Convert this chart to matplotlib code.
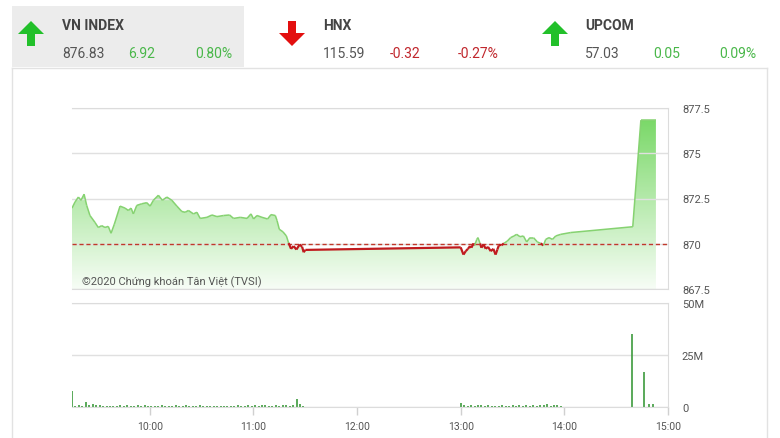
import numpy as np
import matplotlib
matplotlib.use('Agg')
import matplotlib.pyplot as plt
from matplotlib.collections import LineCollection
from matplotlib.patches import PathPatch, Rectangle, FancyArrow
from matplotlib.colors import LinearSegmentedColormap

plt.rcParams['font.family'] = ['Roboto', 'DejaVu Sans']

# header indices
idx_names = ['VN INDEX', 'HNX', 'UPCOM']
idx_close = ['876.83', '115.59', '57.03']
idx_change = ['6.92', '-0.32', '0.05']
idx_pct = ['0.80%', '-0.27%', '0.09%']
idx_up = [True, False, True]

# VN-Index intraday (minutes after 9:00, points)
price_min = [15.0, 16.7, 18.7, 20.2, 22.0, 23.5, 25.4, 28.3, 30.2, 32.2, 34.1, 36.0, 37.6, 39.5,
             42.8, 45.7, 47.6, 49.2, 50.5, 52.5, 55.4, 58.3, 60.2, 62.1, 65.0, 67.3, 69.9, 72.8,
             75.7, 78.6, 80.5, 82.4, 85.3, 87.3, 89.2, 93.1, 96.0, 98.9, 102.7, 106.2, 108.5,
             112.4, 116.3, 118.6, 120.1, 122.1, 125.0, 128.2, 130.2, 132.7, 133.7, 135.0, 137.1,
             139.1, 140.4, 141.8, 143.3, 144.9, 146.8, 148.2, 149.1, 150.1,
             240.0, 241.6, 242.9, 244.2, 245.4, 246.2, 247.4, 248.1, 249.3, 250.0, 251.2, 252.0,
             253.2, 254.5, 255.8, 257.4, 258.9, 260.2, 261.2, 262.1, 263.5, 265.0, 267.0, 268.9,
             270.8, 272.4, 274.3, 276.3, 278.2, 280.1, 282.1, 284.4, 286.3, 287.9, 289.2, 291.1,
             293.1, 295.0, 297.9, 303.7, 339.6, 344.3, 353.0]
price_val = [871.97, 872.30, 872.58, 872.40, 872.74, 872.12, 871.56, 871.18, 870.90, 871.00,
             870.90, 870.96, 870.58, 871.08, 872.08, 871.97, 871.84, 871.97, 871.65, 872.12,
             872.21, 872.27, 872.08, 872.40, 872.68, 872.40, 872.58, 872.40, 872.08, 871.78,
             871.74, 871.84, 871.65, 871.74, 871.40, 871.46, 871.59, 871.50, 871.56, 871.59,
             871.40, 871.46, 871.40, 871.65, 871.37, 871.56, 871.46, 871.37, 871.61, 871.56,
             871.28, 870.80, 870.66, 870.43, 870.04, 869.72, 869.87, 869.68, 869.96, 869.83,
             869.53, 869.66,
             869.80, 869.40, 869.59, 869.72, 869.87, 869.78, 870.02, 869.91, 870.24, 870.34,
             870.02, 869.78, 869.96, 869.72, 869.83, 869.59, 869.72, 869.40, 869.68, 869.91,
             869.91, 870.02, 870.15, 870.34, 870.43, 870.52, 870.39, 870.43, 870.10, 870.34,
             870.34, 870.10, 870.02, 869.91, 870.24, 870.34, 870.24, 870.43, 870.52, 870.62,
             870.94, 876.83, 876.83]
ref_price = 870.0

# volume (million shares), one bar per 2 minutes
vol_am = [7.5, 0.6, 0.9, 0.7, 2.2, 1.0, 1.4, 1.2, 0.8, 0.6,
          0.5, 0.7, 0.6, 0.5, 0.8, 0.6, 0.9, 0.5, 0.7, 1.1,
          0.6, 0.8, 0.5, 0.6, 0.4, 0.7, 0.9, 0.5, 0.6, 0.5,
          0.8, 0.4, 0.6, 0.9, 0.7, 0.5, 0.6, 0.8, 0.5, 0.4,
          0.7, 0.6, 0.5, 0.3, 0.6, 0.5, 0.7, 0.4, 0.8, 0.5,
          0.6, 0.9, 0.7, 1.0, 0.6, 0.8, 0.9, 0.7, 0.6, 1.1,
          0.5, 0.8, 1.2, 0.7, 1.0, 4.0, 1.3, 0.5]
vol_pm = [2.0, 0.9, 0.6, 0.8, 0.7, 1.0, 1.1, 0.6, 0.9, 0.5,
          0.7, 0.6, 0.8, 0.5, 0.6, 0.9, 0.7, 0.8, 0.6, 1.0,
          0.7, 0.9, 0.6, 1.2, 0.8, 1.3, 0.7, 0.9, 0.8, 0.6]
atc_min = [339.0, 346.0, 349.0, 351.5]
atc_vol = [35.0, 17.0, 1.6, 1.3]

hour_ticks = [10, 11, 12, 13, 14, 15]
hour_labels = ['10:00', '11:00', '12:00', '13:00', '14:00', '15:00']

GREEN_TXT = '#49b749'
RED_TXT = '#c0262c'
GRAY = '#555555'

W, H = 780, 439
fig = plt.figure(figsize=(W / 100, H / 100), dpi=100)
fig.patch.set_facecolor('white')

# background layer in pixel coordinates
bg = fig.add_axes([0, 0, 1, 1])
bg.set_xlim(0, W)
bg.set_ylim(H, 0)
bg.axis('off')
bg.set_zorder(0)
bg.add_patch(Rectangle((12, 7), 232, 61, facecolor='#ececec', edgecolor='none'))
bg.plot([12, 767], [69, 69], color='#e2e2e2', lw=1)
bg.plot([12, 12], [69, H], color='#e2e2e2', lw=1)
bg.plot([767, 767], [69, H], color='#e2e2e2', lw=1)

arrow_x = [31, 292, 555]
name_x = [62, 323, 585]
chg_x = [128, 390, 653]
pct_x = [195, 458, 719]
for i in range(3):
    if idx_up[i]:
        bg.add_patch(FancyArrow(arrow_x[i], 47, 0, -25, width=8, head_width=26, head_length=13,
                                length_includes_head=True, color='#22c02a', lw=0))
        c = GREEN_TXT
    else:
        bg.add_patch(FancyArrow(arrow_x[i], 22, 0, 25, width=8, head_width=26, head_length=13,
                                length_includes_head=True, color='#e30f0f', lw=0))
        c = RED_TXT
    bg.text(name_x[i], 26, idx_names[i], fontsize=10, fontweight='bold', color='#444444', va='center')
    bg.text(name_x[i], 53.5, idx_close[i], fontsize=10, color=GRAY, va='center')
    bg.text(chg_x[i], 53.5, idx_change[i], fontsize=10, color=c, va='center')
    bg.text(pct_x[i], 53.5, idx_pct[i], fontsize=10, color=c, va='center')

x0, x1 = 9.25, 15.0

# price chart
ax = fig.add_axes([72 / W, 1 - 290 / H, 596 / W, 181 / H])
ax.set_zorder(1)
ax.patch.set_alpha(0)
t = 9 + np.array(price_min) / 60
p = np.array(price_val)

poly = ax.fill_between(t, p, 867.5, facecolor='none', edgecolor='none')
clip = PathPatch(poly.get_paths()[0], transform=ax.transData, facecolor='none', edgecolor='none')
ax.add_patch(clip)
cmap = LinearSegmentedColormap.from_list('g', ['#f7fdf6', '#72d65f'])
grad = np.linspace(0, 1, 256).reshape(-1, 1)
im = ax.imshow(grad, extent=[x0, x1, 867.5, 877.5], origin='lower', aspect='auto', cmap=cmap, zorder=1)
im.set_clip_path(clip)

pts = np.column_stack([t, p]).reshape(-1, 1, 2)
segs = np.concatenate([pts[:-1], pts[1:]], axis=1)
mid = (p[:-1] + p[1:]) / 2
cols = ['#86d271' if m >= ref_price else '#c01a1e' for m in mid]
lws = [1.1 if m >= ref_price else 1.6 for m in mid]
ax.add_collection(LineCollection(segs, colors=cols, linewidths=lws, zorder=3))
ax.axhline(ref_price, color='#c0392b', lw=1, ls=(0, (3, 2)), zorder=2)

ax.set_xlim(x0, x1)
ax.set_ylim(867.5, 877.5)
ax.set_yticks([867.5, 870, 872.5, 875, 877.5])
ax.set_yticklabels(['867.5', '870', '872.5', '875', '877.5'])
ax.yaxis.tick_right()
ax.tick_params(axis='y', length=0, pad=10, labelsize=8, labelcolor=GRAY)
ax.set_xticks([])
ax.grid(axis='y', color='#e0e0e0', lw=1)
for s in ['top', 'right', 'bottom']:
    ax.spines[s].set_color('#dcdcdc')
ax.spines['left'].set_visible(False)
ax.text(0.017, 0.045, '©2020 Chứng khoán Tân Việt (TVSI)', transform=ax.transAxes,
        fontsize=8, color=GRAY, va='center', zorder=4)

# volume chart
vx = fig.add_axes([72 / W, 1 - 408 / H, 596 / W, 104 / H])
vx.set_zorder(1)
vx.patch.set_alpha(0)
t_am = 9.25 + np.arange(len(vol_am)) * 2 / 60
t_pm = 13.0 + np.arange(len(vol_pm)) * 2 / 60
t_atc = 9 + np.array(atc_min) / 60
vol_t = np.concatenate([t_am, t_pm, t_atc])
vol_v = np.concatenate([vol_am, vol_pm, atc_vol])
vx.vlines(vol_t, 0, vol_v, color='#3d9b3d', lw=1.2)
vx.set_xlim(x0, x1)
vx.set_ylim(0, 50)
vx.set_yticks([0, 25, 50])
vx.set_yticklabels(['0', '25M', '50M'])
vx.yaxis.tick_right()
vx.tick_params(axis='y', length=0, pad=10, labelsize=8, labelcolor=GRAY)
vx.set_xticks(hour_ticks)
vx.set_xticklabels(hour_labels)
vx.tick_params(axis='x', length=6, width=1, color='#d0d0d0', pad=4, labelsize=7.5, labelcolor=GRAY)
vx.grid(axis='y', color='#e0e0e0', lw=1)
for s in ['top', 'right', 'bottom']:
    vx.spines[s].set_color('#dcdcdc')
vx.spines['left'].set_visible(False)

fig.savefig('out.png', dpi=100)
